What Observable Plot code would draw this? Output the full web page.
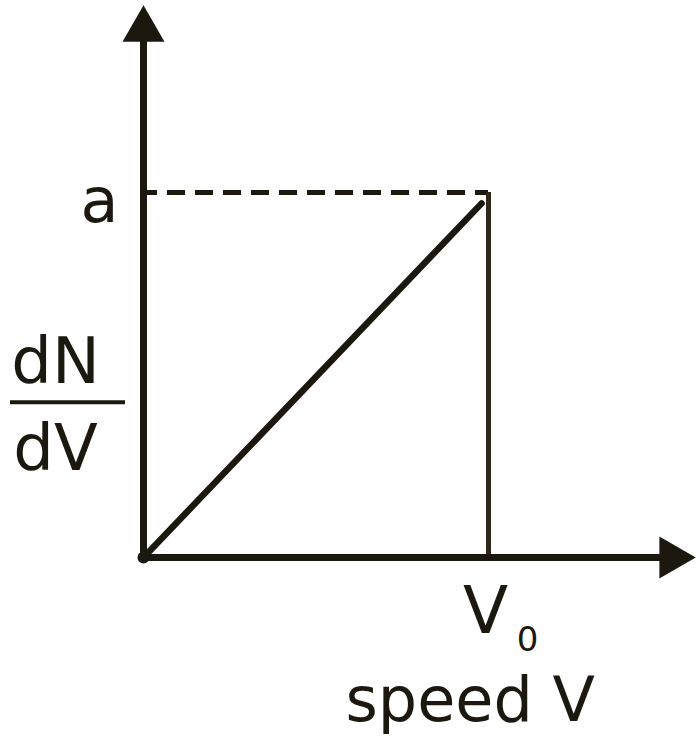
<!DOCTYPE html>
<html><head><meta charset="utf-8">
<script src="https://cdn.jsdelivr.net/npm/d3@7"></script>
<script src="https://cdn.jsdelivr.net/npm/@observablehq/plot@0.6"></script>
<style>body{margin:0;background:#fff}</style>
</head><body><div id="chart"></div>
<script>
// Data (in units of V0 along x and a along y)
const speed = [0, 0.98];
const density = [0, 0.97];
const V0 = 1;
const aLevel = 1;
const xEnd = 1.6;
const yEnd = 1.512;
const fracLevel = 0.425;
const aLabel = "a";
const yLabelNum = "dN";
const yLabelDen = "dV";
const v0Label = "V";
const v0Sub = "0";
const xLabel = "speed V";

const ink = "#1c1810";
const font = "DejaVu Sans";
const diag = speed.map((v, i) => ({v, f: density[i]}));

const chart = Plot.plot({
  width: 696, height: 738,
  marginLeft: 143, marginRight: 1, marginTop: 5, marginBottom: 181,
  x: {domain: [0, xEnd], axis: null},
  y: {domain: [0, yEnd], axis: null},
  style: {background: "#fff", fontFamily: font, color: ink},
  marks: [
    Plot.ruleY([aLevel], {x1: 0, x2: V0, stroke: ink, strokeWidth: 5, strokeDasharray: "18,10", strokeDashoffset: 4}),
    Plot.ruleX([V0], {y1: aLevel, y2: 0, stroke: "#2e281a", strokeWidth: 5}),
    Plot.line(diag, {x: "v", y: "f", stroke: ink, strokeWidth: 6.5, strokeLinecap: "round"}),
    Plot.ruleX([0], {y1: yEnd, y2: 0, insetTop: 26, stroke: ink, strokeWidth: 7, strokeLinecap: "square"}),
    Plot.ruleY([0], {x1: 0, x2: xEnd, insetRight: 26, stroke: ink, strokeWidth: 7, strokeLinecap: "square"}),
    Plot.dot([{x: 0, y: 0}], {x: "x", y: "y", r: 6, fill: ink, stroke: "none"}),
    Plot.dot([{x: 0, y: yEnd}], {x: "x", y: "y", symbol: "triangle", r: 15.6, fill: ink, stroke: "none", dy: 24}),
    Plot.dot([{x: xEnd, y: 0}], {x: "x", y: "y", symbol: "triangle", r: 15.6, fill: ink, stroke: "none", rotate: 90, dx: -24}),
    // fraction bar of the y label
    Plot.ruleY([fracLevel], {stroke: ink, strokeWidth: 4, insetLeft: -133, insetRight: 570}),
    Plot.text([{t: aLabel, x: 0, y: aLevel}], {x: "x", y: "y", text: "t", textAnchor: "end", lineAnchor: "bottom", dx: -25, dy: 30, fontSize: 62, fill: ink}),
    Plot.text([{t: yLabelNum, x: 0, y: fracLevel}], {x: "x", y: "y", text: "t", textAnchor: "middle", lineAnchor: "bottom", dx: -88, dy: -19, fontSize: 64, fill: ink}),
    Plot.text([{t: yLabelDen, x: 0, y: fracLevel}], {x: "x", y: "y", text: "t", textAnchor: "middle", lineAnchor: "bottom", dx: -88, dy: 68, fontSize: 64, fill: ink}),
    Plot.text([{t: v0Label, x: V0, y: 0}], {x: "x", y: "y", text: "t", textAnchor: "middle", lineAnchor: "bottom", dx: -3, dy: 75, fontSize: 66, fill: ink}),
    Plot.text([{t: v0Sub, x: V0, y: 0}], {x: "x", y: "y", text: "t", textAnchor: "middle", lineAnchor: "bottom", dx: 39, dy: 93, fontSize: 34, fill: ink}),
    Plot.text([{t: xLabel, x: V0, y: 0}], {x: "x", y: "y", text: "t", textAnchor: "start", lineAnchor: "bottom", dx: -143, dy: 163, fontSize: 62, fill: ink})
  ]
});
document.getElementById("chart").append(chart);
</script>
</body></html>
